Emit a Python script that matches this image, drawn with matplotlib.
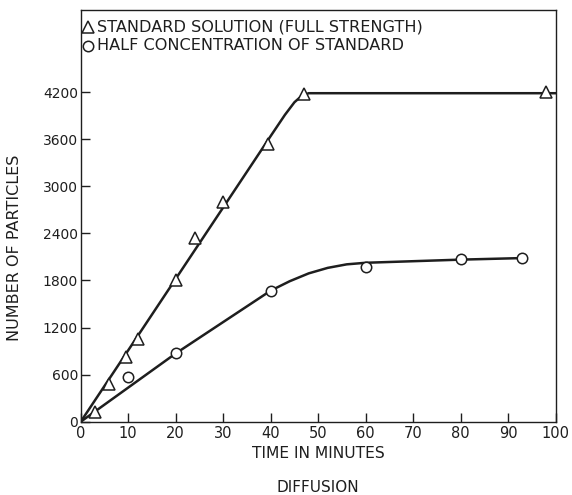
import matplotlib
matplotlib.use("Agg")
import matplotlib.pyplot as plt

# Measured points
std_time = [3, 6, 9.5, 12, 20, 24, 30, 39.5, 47, 98]
std_particles = [120, 480, 820, 1060, 1800, 2340, 2800, 3540, 4180, 4200]
half_time = [10, 20, 40, 60, 80, 93]
half_particles = [570, 870, 1670, 1970, 2075, 2085]

# Hand-drawn fitted curves
std_curve_t = [0, 10, 20, 30, 40, 43, 45, 46.5, 48, 100]
std_curve_p = [0, 910, 1820, 2730, 3640, 3910, 4070, 4150, 4185, 4185]
half_curve_t = [0, 20, 40, 44, 48, 52, 56, 60, 80, 93]
half_curve_p = [0, 870, 1670, 1790, 1890, 1960, 2005, 2025, 2065, 2085]

x_ticks = [0, 10, 20, 30, 40, 50, 60, 70, 80, 90, 100]
y_ticks = [0, 600, 1200, 1800, 2400, 3000, 3600, 4200]
legend_labels = ["STANDARD SOLUTION (FULL STRENGTH)", "HALF CONCENTRATION OF STANDARD"]

ink = "#1e1e1e"
plt.rcParams['font.family'] = ['DejaVu Sans']

fig = plt.figure(figsize=(5.72, 4.95), dpi=100)
ax = fig.add_axes([0.1411, 0.148, 0.9715 - 0.1411, 0.9798 - 0.148])

ax.plot(std_curve_t, std_curve_p, color=ink, lw=1.8, zorder=2)
ax.plot(half_curve_t, half_curve_p, color=ink, lw=1.8, zorder=2)
ax.plot(std_time, std_particles, linestyle='none', marker='^', ms=9,
        mfc='white', mec=ink, mew=1.1, zorder=3, clip_on=False)
ax.plot(half_time, half_particles, linestyle='none', marker='o', ms=7.5,
        mfc='white', mec=ink, mew=1.1, zorder=3, clip_on=False)

ax.set_xlim(0, 100)
ax.set_ylim(0, 5245)
ax.set_xticks(x_ticks)
ax.set_yticks(y_ticks)
ax.set_xticklabels([str(v) for v in x_ticks], fontsize=10.5, color=ink)
ax.set_yticklabels([str(v) for v in y_ticks], fontsize=10, color=ink)
ax.tick_params(axis='both', direction='in', length=6.5, width=1.0, color=ink)
ax.tick_params(axis='x', pad=3)
ax.tick_params(axis='y', pad=2)
for s in ax.spines.values():
    s.set_linewidth(1.0)
    s.set_color(ink)

fig.text(318 / 572, 1 - 453 / 495, "TIME IN MINUTES", ha='center', va='center',
         fontsize=11.2, color=ink)
fig.text(318 / 572, 1 - 488 / 495, "DIFFUSION", ha='center', va='center',
         fontsize=11, color=ink)
fig.text(15 / 572, 1 - 248 / 495, "NUMBER OF PARTICLES", ha='center', va='center',
         rotation=90, fontsize=11.5, color=ink)

# Legend drawn in axes coordinates
legend_rows = [(27, '^', 8.5), (46, 'o', 7.5)]
for (ypx, mk, msz), lab in zip(legend_rows, legend_labels):
    yf = 1 - ypx / 495
    fig.lines.append(plt.Line2D([88 / 572], [yf], transform=fig.transFigure,
                                linestyle='none', marker=mk, ms=msz,
                                mfc='white', mec=ink, mew=1.1))
    fig.text(97 / 572, yf, lab, ha='left', va='center', fontsize=11.6, color=ink)

fig.savefig("out.png", dpi=100)
